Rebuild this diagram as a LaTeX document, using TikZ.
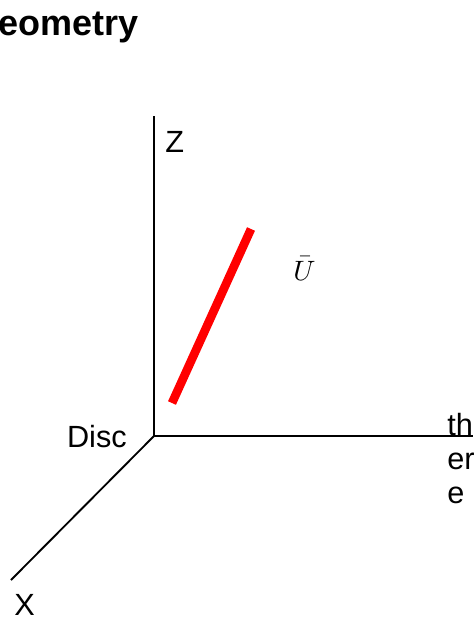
\documentclass[tikz,border=0pt]{standalone}
\usepackage{fontspec}
\setmainfont{Liberation Sans}
\usepackage{xcolor}
\usepackage{tikz}
\definecolor{vecred}{HTML}{FF0000}
\definecolor{axisgray}{HTML}{000000}

\tikzset{
  axis/.style={axisgray, line width=1.4pt},
  lbl/.style={inner sep=0pt, font=\fontsize{23}{25.5}\selectfont},
}

\begin{document}
\begin{tikzpicture}[x=0.75pt, y=-0.75pt]
            \useasboundingbox (0,0) rectangle (475,617);
            \clip (0,0) rectangle (475,617);
            \node[inner sep=0pt, anchor=base west, font=\fontsize{27}{30}\selectfont\bfseries] (title) at (-30,36) {Geometry};
            % axes
            \coordinate (origin) at (154,436);
            \coordinate (zend) at (154,116);
            \coordinate (xend) at (11,580);
            \coordinate (yend) at (473,436);
            \draw[axis] (zend) -- (origin) -- (yend);
            \draw[axis] (origin) -- (xend);
            % mean velocity
            \coordinate (ubot) at (172,403);
            \coordinate (utop) at (251,229);
            \draw[vecred, line width=6.5pt] (ubot) -- (utop);
            \node[lbl, anchor=base west] (zlab) at (165,152) {Z};
            \node[lbl, anchor=base east] (disc) at (127,447) {Disc};
            \node[lbl, anchor=base west] (xlab) at (14,615) {X};
            \node[lbl, anchor=base west, align=left] (there) at (447,503) {th\\er\\e};
            \node[inner sep=0pt, anchor=base west] (ubar) at (293,280) {\scalebox{2.1}{$\bar{U}$}};
        \end{tikzpicture}
\end{document}
